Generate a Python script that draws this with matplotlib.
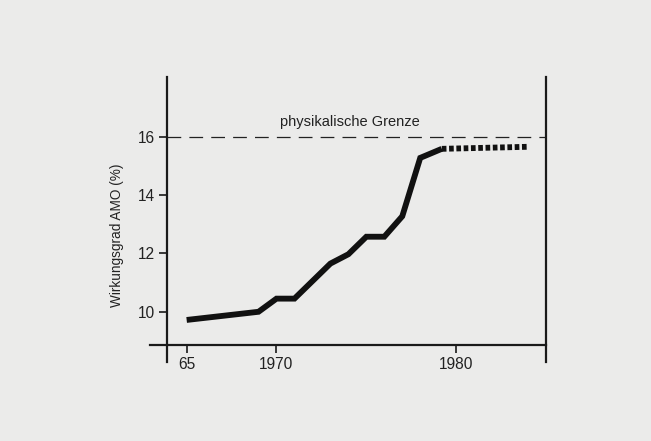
import matplotlib.pyplot as plt

plt.rcParams['font.family'] = ['Liberation Sans', 'DejaVu Sans']

# measured curve (solid part) and the forecast (dotted part)
years = [1965, 1969, 1970, 1971, 1973, 1974, 1975, 1976, 1977, 1978, 1979.2]
eff = [9.72, 10.0, 10.45, 10.45, 11.65, 11.97, 12.57, 12.57, 13.27, 15.27, 15.58]
fc_years = [1979.2, 1984]
fc_eff = [15.58, 15.65]
limit = 16.0

xticks = [1965, 1970, 1980]
xticklabels = ["65", "1970", "1980"]
yticks = [10, 12, 14, 16]

x_axis_at = 1963.9   # where the y axis crosses
y_axis_at = 8.86     # where the x axis crosses

fig = plt.figure(figsize=(6.51, 4.41), dpi=100, facecolor="#ebebea")
ax = fig.add_axes([150 / 651, (441 - 362) / 441, (546 - 150) / 651, (362 - 77) / 441])
ax.set_facecolor("none")

ax.set_xlim(1962.96, 1985.0)
ax.set_ylim(8.28, 18.04)

ax.plot(years, eff, color="#111111", lw=4.2, solid_joinstyle="miter", solid_capstyle="butt")
ax.plot(fc_years, fc_eff, color="#111111", lw=4.2, linestyle=(0, (0.8, 0.45)),
        dash_capstyle="butt")

ax.hlines(limit, x_axis_at, 1985.0, color="#222222", lw=0.9, linestyles=[(0, (11, 6.5))])
ax.text(1974.1, 16.5, "physikalische Grenze", ha="center", va="center", fontsize=10.5,
        color="#222222")

for s in ["left", "bottom", "right"]:
    ax.spines[s].set_linewidth(1.6)
    ax.spines[s].set_color("#1a1a1a")
ax.spines["top"].set_visible(False)
ax.spines["left"].set_position(("data", x_axis_at))
ax.spines["bottom"].set_position(("data", y_axis_at))

ax.set_xticks(xticks)
ax.set_xticklabels(xticklabels)
ax.set_yticks(yticks)
ax.tick_params(direction="out", length=6, width=1.2, color="#1a1a1a",
               labelsize=11.2, labelcolor="#222222", pad=2.5)

fig.text(117 / 651, 1 - 235 / 441, "Wirkungsgrad AMO (%)", rotation=90,
         ha="center", va="center", fontsize=9.8, color="#222222")

fig.savefig("out.png", dpi=100, facecolor=fig.get_facecolor())
